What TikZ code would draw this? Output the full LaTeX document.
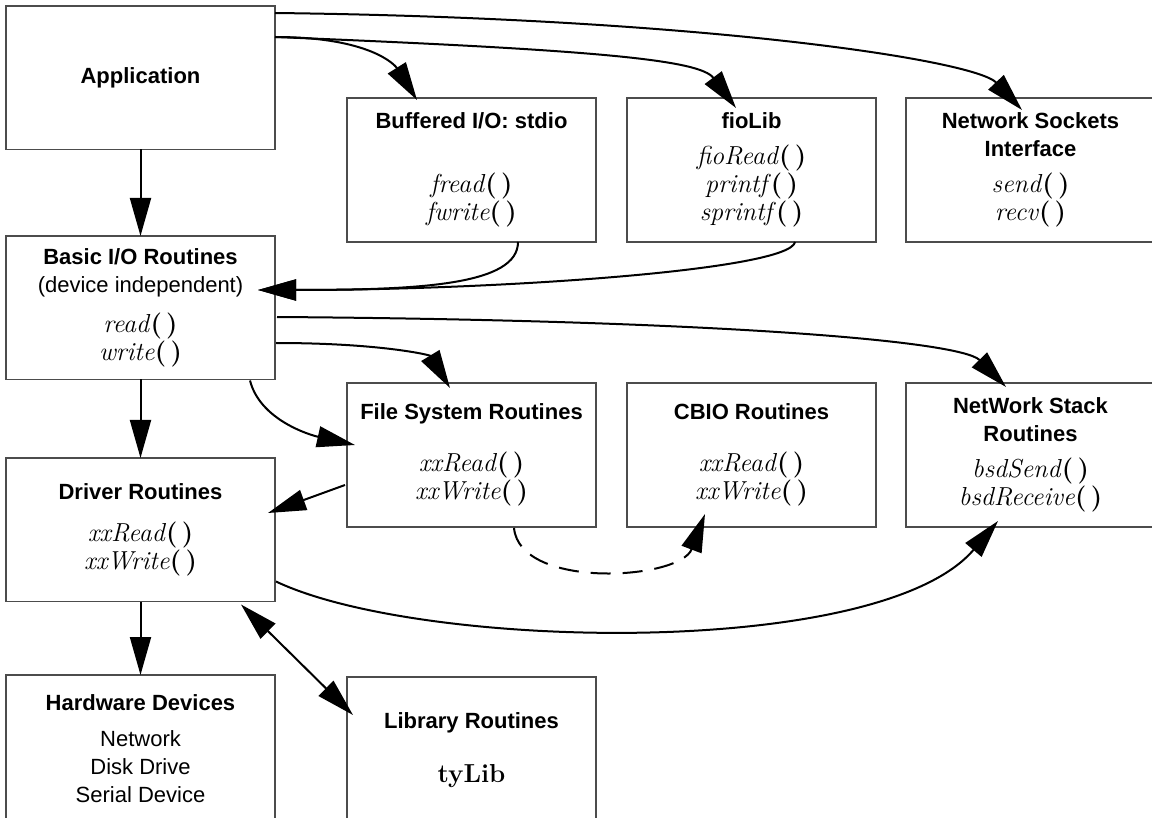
\documentclass[tikz,border=0pt]{standalone}
\usepackage{fontspec}
\setsansfont{Liberation Sans}
\usepackage{tikz}
\usetikzlibrary{positioning}
\usetikzlibrary{arrows.meta}
\usetikzlibrary{calc}

\newcommand{\fcall}[1]{{\rmfamily\fontsize{13}{14}\selectfont\textit{#1}\textbf{(\,)}}}

\tikzset{
  box/.style={draw=black!70,line width=0.6pt,rectangle,anchor=north west,align=center,inner sep=0pt,outer sep=0pt,font=\sffamily\fontsize{11}{14}\selectfont},
  wide/.style={box,minimum width=134.5pt,minimum height=71.75pt},
  narrow/.style={box,minimum width=124.5pt,minimum height=72pt},
  arr/.style={line width=1pt,-{Triangle[length=19pt,width=10.5pt]}},
  arrboth/.style={line width=1pt,{Triangle[length=19pt,width=10.5pt]}-{Triangle[length=19pt,width=10.5pt]}}
}

\begin{document}
\begin{tikzpicture}[x=0.5pt,y=-0.5pt]
\useasboundingbox (0,0) rectangle (1152,818);
\clip (0,0) rectangle (1152,818);

% left column
\node[wide] (app) at (6,6) {\textbf{Application}};
\node[wide] (bio) at (6,236) {\textbf{Basic I/O Routines}\\(device independent)\\[6pt]\fcall{read}\\\fcall{write}};
\node[wide] (drv) at (6,458) {\textbf{Driver Routines}\\[7pt]\fcall{xxRead}\\\fcall{xxWrite}};
\node[wide,minimum height=73.5pt] (hw) at (6,675) {\textbf{Hardware Devices}\\[4pt]Network\\Disk Drive\\Serial Device};

% upper row
\node[narrow] (buf) at (347,98) {\textbf{Buffered I/O: stdio}\\[18pt]\fcall{fread}\\\fcall{fwrite}};
\node[narrow] (fio) at (627,98) {\textbf{fioLib}\\[4pt]\fcall{fioRead}\\\fcall{printf}\\\fcall{sprintf}};
\node[narrow] (sock) at (906,98) {\textbf{Network Sockets}\\\textbf{Interface}\\[4pt]\fcall{send}\\\fcall{recv}};

% middle row
\node[narrow] (fs) at (347,383) {\textbf{File System Routines}\\[12pt]\fcall{xxRead}\\\fcall{xxWrite}};
\node[narrow] (cbio) at (627,383) {\textbf{CBIO Routines}\\[12pt]\fcall{xxRead}\\\fcall{xxWrite}};
\node[narrow] (nstk) at (906,383) {\textbf{NetWork Stack}\\\textbf{Routines}\\[4pt]\fcall{bsdSend}\\\fcall{bsdReceive}};

% bottom row
\node[narrow,minimum height=73pt] (lib) at (347,677) {\textbf{Library Routines}\\[13pt]{\rmfamily\bfseries\fontsize{13}{14}\selectfont tyLib}};

% down the left column
\draw[arr] (app) -- (bio);
\draw[arr] (bio) -- (drv);
\draw[arr] (drv) -- (hw);

% from the application
\draw[arr] ($(app.north east)+(0,7)$) .. controls (700,18) and (975,60) .. ($(sock.north west)+(116,12)$);
\draw[arr] ($(app.north east)+(0,31)$) .. controls (370,37) and (395,65) .. ($(buf.north west)+(70,2)$);
\draw[arr] ($(app.north east)+(0,31)$) .. controls (600,50) and (700,60) .. ($(fio.north west)+(109,10)$);

% into basic I/O
\draw[arr] ($(buf.south west)+(171,0)$) .. controls (518,285) and (420,290) .. ($(bio.north east)+(-17,54)$);
\draw[arr] ($(fio.south west)+(168,0)$) .. controls (790,270) and (500,290) .. ($(bio.north east)+(-17,54)$);

% out of basic I/O
\draw[arr] ($(bio.north east)+(2,81)$) .. controls (700,320) and (960,340) .. ($(nstk.north west)+(100,4)$);
\draw[arr] ($(bio.north east)+(1,107)$) .. controls (380,343) and (430,355) .. ($(fs.north west)+(103,5)$);
\draw[arr] ($(bio.south east)+(-25,1)$) .. controls (260,420) and (310,435) .. ($(fs.north west)+(8,62)$);

% drivers
\draw[arr] ($(fs.north west)+(-2,102)$) -- ($(drv.north east)+(-7,55)$);
\draw[arr,dash pattern=on 10pt off 6pt] ($(fs.south west)+(167,1)$) .. controls (520,590) and (680,580) .. ($(cbio.south west)+(78,-13)$);
\draw[arr] ($(drv.south east)+(1,-20)$) .. controls (420,650) and (880,660) .. ($(nstk.south west)+(92,-6)$);
\draw[arrboth] ($(drv.south east)+(-34,3)$) -- ($(lib.north west)+(6,38)$);
\end{tikzpicture}
\end{document}
